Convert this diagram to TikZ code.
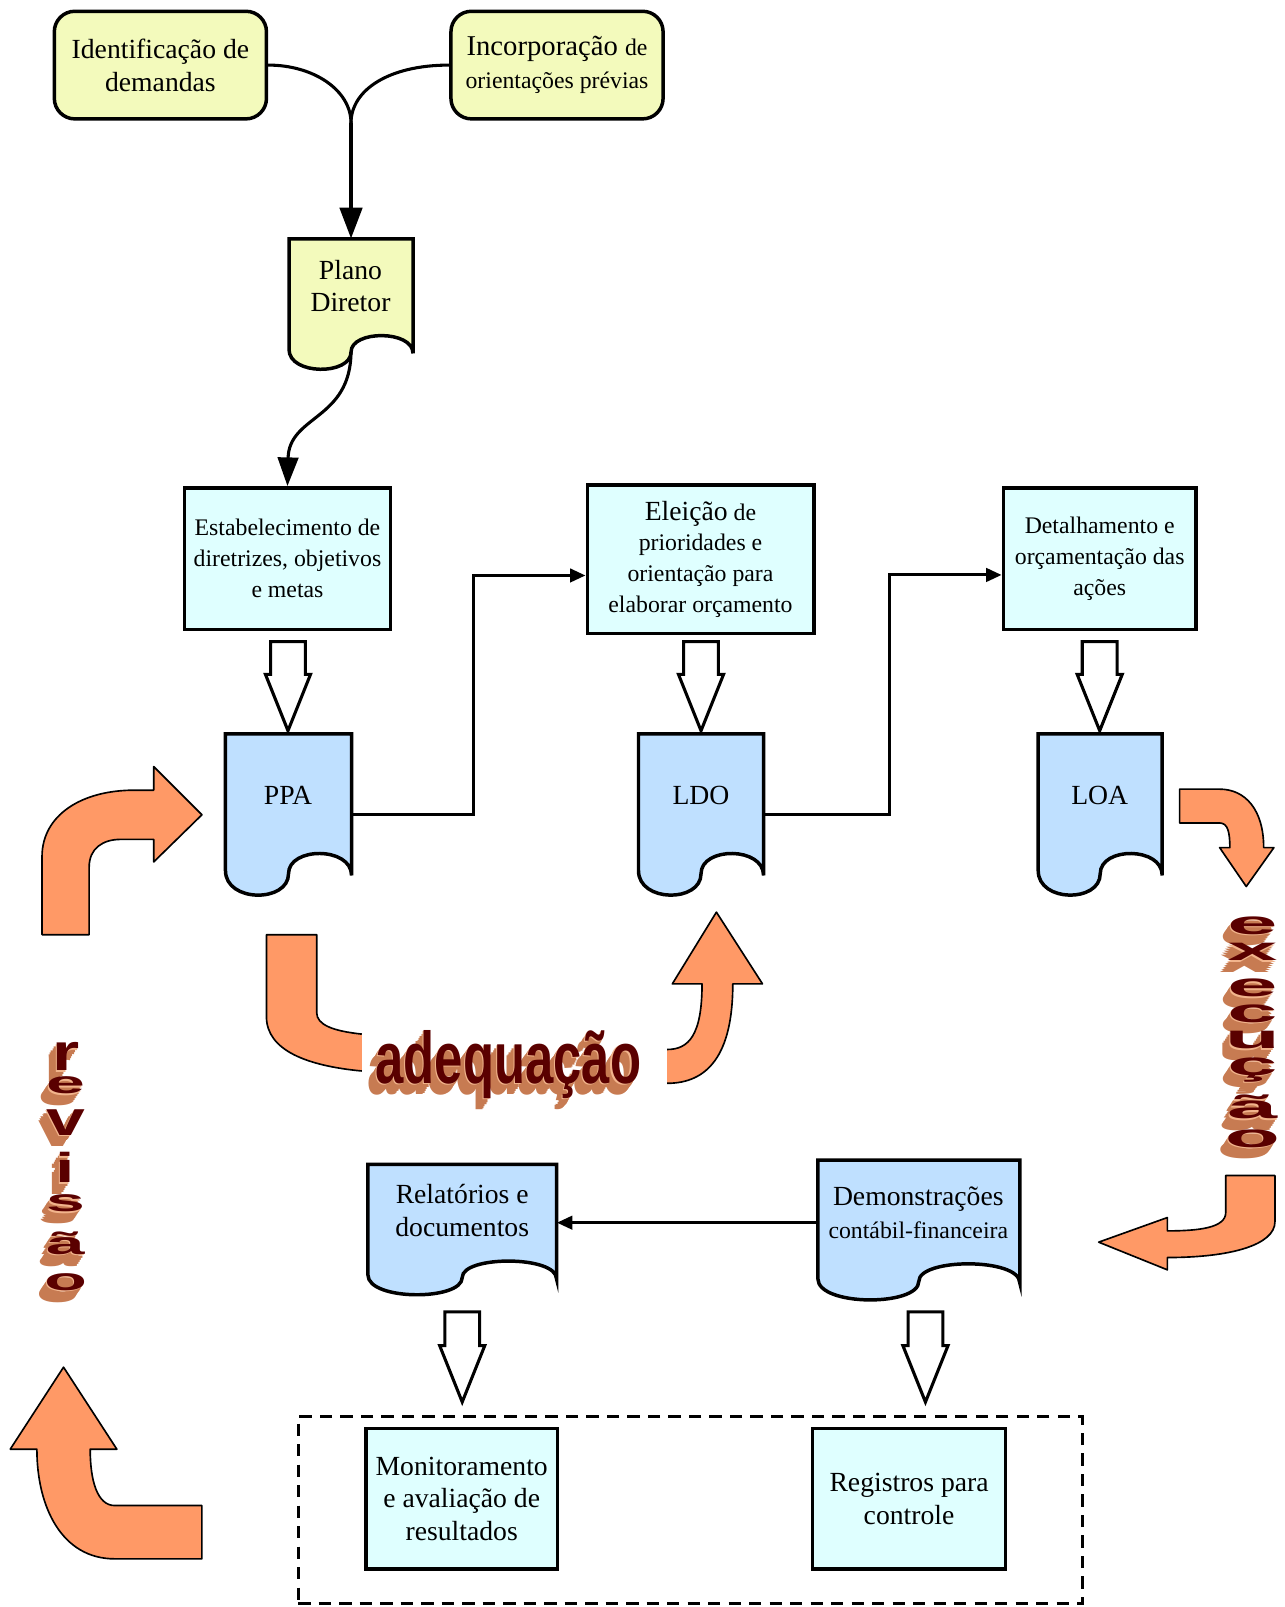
\documentclass[tikz,border=0pt]{standalone}
\usepackage{fontspec}
\setmainfont{Liberation Serif}
\newfontfamily\wafont{Liberation Sans}
\usetikzlibrary{arrows.meta,calc}
\definecolor{yel}{HTML}{F3FABC}
\definecolor{cyb}{HTML}{DFFFFF}
\definecolor{docb}{HTML}{BFE0FF}
\definecolor{ora}{HTML}{FF9966}
\definecolor{wafront}{HTML}{5A0000}
\definecolor{waside}{HTML}{C77B52}
\definecolor{walight}{HTML}{F2B48C}
\newcommand\bigf{\fontsize{13.5}{16}\selectfont}
\newcommand\smf{\fontsize{11.6}{15}\selectfont}

% document shape: name, left, top, right, bottom, fill
\newcommand\docshape[6]{%
  \node[inner sep=0pt, minimum width={(#4-#2)*0.5pt}, minimum height={(#5-#3)*0.5pt}] (#1) at ({(#2+#4)/2},{(#3+#5)/2}) {};
  \path[docline, fill=#6] (#2,#3) -- (#4,#3) -- (#4,{#3+0.88*(#5-#3)})
    .. controls (#4,{#3+0.70*(#5-#3)}) and ({#2+0.5*(#4-#2)},{#3+0.70*(#5-#3)}) .. ({#2+0.5*(#4-#2)},{#3+0.87*(#5-#3)})
    .. controls ({#2+0.5*(#4-#2)},{#3+1.05*(#5-#3)}) and (#2,{#3+1.05*(#5-#3)}) .. (#2,{#3+0.85*(#5-#3)}) -- cycle;
}
% hollow block arrow: x, top, tip
\newcommand\hollowarrow[3]{%
  \path[hollow] ({#1-17},#2) -- ({#1+17},#2) -- ({#1+17},{#3-55}) -- ({#1+22},{#3-55}) -- (#1,#3) -- ({#1-22},{#3-55}) -- ({#1-17},{#3-55}) -- cycle;
}
% word art: name, x, y, anchor, size, xscale, yscale, text
\newcommand\wart[8]{%
  \foreach \k in {6,5,...,2}{%
    \node[inner sep=0pt, anchor=#4, text=waside] (#1-\k) at ({#2-1.3*\k},{#3+1.9*\k}) {\wafont\bfseries\fontsize{#5}{#5}\selectfont\scalebox{#6}[#7]{#8}};
  }%
  \node[inner sep=0pt, anchor=#4, text=walight] (#1-1) at ({#2-1.0},{#3+1.5}) {\wafont\bfseries\fontsize{#5}{#5}\selectfont\scalebox{#6}[#7]{#8}};
  \node[inner sep=0pt, anchor=#4, text=wafront] (#1) at (#2,#3) {\wafont\bfseries\fontsize{#5}{#5}\selectfont\scalebox{#6}[#7]{#8}};
}

\begin{document}
\begin{tikzpicture}[x=0.5pt,y=-0.5pt,
  ybox/.style={draw, line width=1.7pt, fill=yel, rounded corners=10pt, inner sep=0pt, align=center, font=\bigf},
  cbox/.style={draw, line width=1.7pt, fill=cyb, inner sep=0pt, align=center},
  docline/.style={draw, line width=1.7pt},
  txt/.style={inner sep=0pt, align=center},
  conn/.style={line width=1.5pt},
  bigtip/.style={-{Triangle[length=15pt,width=11pt]}},
  smalltip/.style={-{Triangle[length=7.5pt,width=6.5pt]}},
  hollow/.style={draw, line width=1.5pt, fill=white, line join=miter},
  orline/.style={draw, line width=0.8pt, line join=round},
  dashedframe/.style={draw, line width=1.5pt, dash pattern=on 6pt off 4pt},
]
\useasboundingbox (0,0) rectangle (1253,1568);

% ---------- top ----------
\node[ybox, minimum width=103.5pt, minimum height=52.5pt] (ident) at (156.5,63.5) {Identificação de\\demandas};
\node[ybox, minimum width=103.5pt, minimum height=52.5pt] (incorp) at (543.5,63.5) {\fontsize{14}{15.5}\selectfont Incorporação {\smf de}\\{\smf orientações prévias}};

\docshape{plano}{282}{233}{403}{360}{yel}
\node[txt, font=\bigf] (plano-t) at (342,279) {Plano\\Diretor};

\coordinate (j) at (342.5,120);
\draw[conn] (ident.east) .. controls (306,63.5) and (342.5,88) .. (j);
\draw[conn] (incorp.west) .. controls (379,63.5) and (342.5,88) .. (j);
\draw[conn, bigtip] (j) -- (plano.north);

% ---------- cyan boxes ----------
\node[cbox, font=\smf, minimum width=100.5pt, minimum height=69pt] (est) at (280.5,545) {Estabelecimento de\\diretrizes, objetivos\\e metas};
\node[cbox, font=\smf, minimum width=110.5pt, minimum height=72.5pt] (ele) at (683.5,545.5) {{\bigf Eleição} de\\prioridades e\\orientação para\\elaborar orçamento};
\node[cbox, font=\smf, minimum width=94pt, minimum height=69pt] (det) at (1073,545) {Detalhamento e\\orçamentação das\\ações};

\draw[conn, -{Triangle[length=14pt,width=10pt]}] ($(plano.south)+(0,-17)$) .. controls (342,410) and (282,405) .. (est.north);

% ---------- documents ----------
\docshape{ppa}{220}{716}{343}{873}{docb}
\docshape{ldo}{623}{716}{745}{873}{docb}
\docshape{loa}{1013}{716}{1134}{873}{docb}
\node[txt, font=\bigf] (ppa-t) at (281,776) {PPA};
\node[txt, font=\bigf] (ldo-t) at (684,776) {LDO};
\node[txt, font=\bigf] (loa-t) at (1073,776) {LOA};

\hollowarrow{281}{626}{713}
\hollowarrow{684}{626}{713}
\hollowarrow{1073}{626}{713}

\draw[conn, smalltip] (ppa.east) -- (462,794.5) |- ([yshift=-8pt]ele.west);
\draw[conn, smalltip] (ldo.east) -- (868,794.5) |- ([yshift=-8pt]det.west);

% ---------- lower documents ----------
\docshape{rel}{359}{1136}{543}{1263}{docb}
\docshape{dem}{798}{1132}{995}{1268}{docb}
\node[txt, font=\bigf] (rel-t) at (451,1181.5) {Relatórios e\\documentos};
\node[txt, font=\bigf] (dem-t) at (896,1183) {Demonstrações\\{\smf contábil-financeira}};
\draw[conn, smalltip] ($(dem.west)+(2,-7)$) -- ($(rel.east)+(0,-6.5)$);

\hollowarrow{451}{1280}{1368}
\hollowarrow{903}{1280}{1368}

\node[dashedframe, minimum width=382.5pt, minimum height=91.5pt] (frame) at (673.5,1473.5) {};
\node[cbox, font=\bigf, minimum width=93.5pt, minimum height=68.5pt] (mon) at (450.5,1462.5) {Monitoramento\\e avaliação de\\resultados};
\node[cbox, font=\bigf, minimum width=94pt, minimum height=68.5pt] (reg) at (887,1462.5) {Registros para\\controle};

% ---------- orange curved arrows ----------
\path[orline, fill=ora] (41,912) -- (41,836) .. controls (41,795) and (80,771) .. (131,771) -- (150,771) -- (150,748) -- (197,795) -- (150,841) -- (150,819) -- (118,819) .. controls (100,819) and (87,828) .. (87,846) -- (87,912) -- cycle;
\fill[ora] (260,912) -- (309,912) -- (309,988) .. controls (309,1000) and (325,1006) .. (353,1009) -- (353,1045) .. controls (300,1040) and (260,1025) .. (260,992) -- cycle;
\draw[orline] (353,1009) .. controls (325,1006) and (309,1000) .. (309,988) -- (309,912) -- (260,912) -- (260,992) .. controls (260,1025) and (300,1040) .. (353,1045);
\fill[ora] (651,1024) .. controls (672,1024) and (685,1010) .. (685,960) -- (656,960) -- (699,890) -- (744,960) -- (715,960) .. controls (715,1030) and (690,1057) .. (651,1057) -- cycle;
\draw[orline] (651,1024) .. controls (672,1024) and (685,1010) .. (685,960) -- (656,960) -- (699,890) -- (744,960) -- (715,960) .. controls (715,1030) and (690,1057) .. (651,1057);
\path[orline, fill=ora] (1151,770) -- (1190,770) .. controls (1215,770) and (1233,790) .. (1233,827) -- (1243,827) -- (1216,865) -- (1190,827) -- (1200,827) .. controls (1200,812) and (1198,803) .. (1190,803) -- (1151,803) -- cycle;
\path[orline, fill=ora] (1196,1147) -- (1244,1147) -- (1244,1192) .. controls (1244,1215) and (1200,1227) .. (1139,1227) -- (1139,1239) -- (1072,1212) -- (1139,1188) -- (1139,1201) .. controls (1170,1201) and (1196,1198) .. (1196,1183) -- cycle;
\path[orline, fill=ora] (36,1414) -- (10,1414) -- (62,1334) -- (114,1414) -- (88,1414) .. controls (88,1445) and (95,1469) .. (112,1469) -- (197,1469) -- (197,1521) -- (112,1521) .. controls (60,1521) and (36,1470) .. (36,1414) -- cycle;

% ---------- word art ----------
\wart{adq}{366}{1057}{base west}{24.8}{1}{1.44}{adequação}
\foreach \l/\yy [count=\i] in {e/903, x/929, e/964, c/989, u/1015, ç/1044, ã/1080, o/1111}{
  \wart{exe\i}{1222}{\yy}{center}{20}{2.2}{0.8}{\l}
}
\foreach \l/\yy/\ys [count=\i] in {r/1031/1.5, e/1059/0.9, v/1095/1.4, i/1139/1.2, s/1174/0.9, ã/1213/0.9, o/1251/0.9}{
  \wart{rev\i}{64}{\yy}{center}{17}{2.0}{\ys}{\l}
}
\end{tikzpicture}
\end{document}
